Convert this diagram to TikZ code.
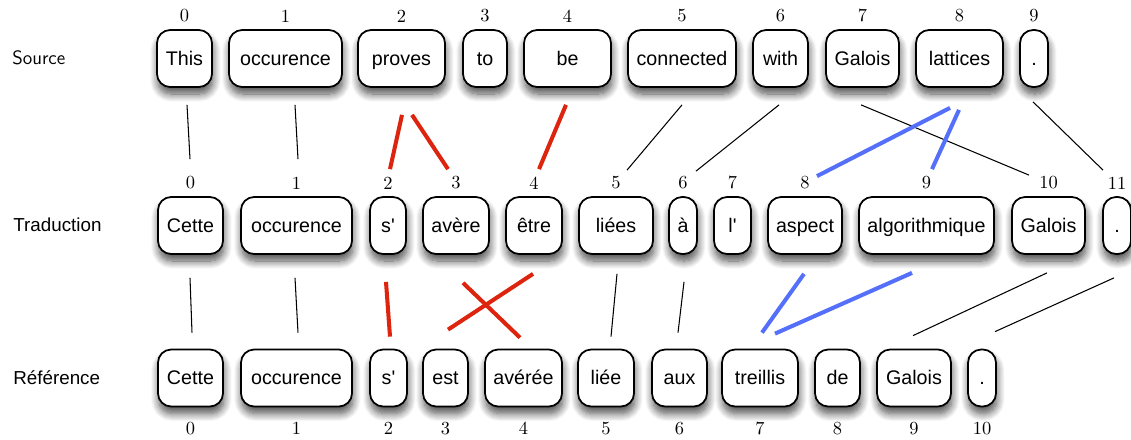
\documentclass[tikz,border=0pt]{standalone}
\usepackage{fontspec}
\usepackage{xcolor}
\usepackage{tikz}
\usetikzlibrary{calc,shadows,shadows.blur}
\newfontfamily\wordfont{Liberation Sans}
\definecolor{alignred}{RGB}{221,36,14}
\definecolor{alignblue}{RGB}{84,112,250}
\tikzstyle{word}+=[draw,line width=1pt,rounded corners=7.5pt,fill=white,minimum height=57*0.02cm,inner sep=0pt,
  text height=9.5pt,text depth=2.1pt,font=\wordfont\fontsize{11.2}{13}\selectfont,
  blur shadow={shadow xshift=0.5pt,shadow yshift=-4pt,shadow blur radius=4.5pt,shadow blur steps=10,shadow opacity=70}]
\tikzstyle{num}+=[font=\rmfamily\fontsize{10.5}{12}\selectfont,inner sep=0pt,label distance=3.7pt]
\tikzstyle{rowname}+=[anchor=west,inner sep=0pt,font=\wordfont\fontsize{10.7}{13}\selectfont]
\tikzstyle{plain}+=[line width=0.6pt]
\tikzstyle{redlink}+=[line width=2.3pt,alignred]
\tikzstyle{bluelink}+=[line width=2.3pt,alignblue]

\begin{document}
\begin{tikzpicture}[x=0.02cm,y=-0.02cm]
  \useasboundingbox (0,0) rectangle (1131,439);
  % row titles
  \node[rowname,font=\sffamily\fontsize{11}{13}\selectfont] (src) at (12,58) {Source};
  \node[rowname] (trad) at (13,225) {Traduction};
  \node[rowname] (ref) at (13,378) {Référence};

  % source sentence
  \foreach \x/\w/\t [count=\i from 0] in {184.5/55/This,285.5/113/occurence,401.5/87/proves,485/44/to,
      567.5/87/be,682/108/connected,780.5/55/with,862.5/73/Galois,959.5/87/lattices,1034/28/.}
    \node[word,minimum width=\w*0.02cm,label={[num,name=sn\i]above:\i}] (s\i) at (\x,58.5) {\t};

  % translation
  \foreach \x/\w/\t [count=\i from 0] in {190.5/65/Cette,296.5/111/occurence,388/36/s',456/66/avère,
      534/56/être,616/74/liées,683/28/à,732.5/37/l',805/74/aspect,926.5/135/algorithmique,
      1048.5/73/Galois,1117/28/.}
    \node[word,minimum width=\w*0.02cm,label={[num,name=tn\i]above:\i}] (t\i) at (\x,225.5) {\t};

  % reference
  \foreach \x/\w/\t [count=\i from 0] in {190.5/65/Cette,296.5/111/occurence,388.5/37/s',445.5/45/est,
      523.5/77/avérée,606/56/liée,679.5/55/aux,760/76/treillis,837.5/45/de,914/74/Galois,982/28/.}
    \node[word,minimum width=\w*0.02cm,label={[num,name=rn\i,label distance=8pt]below:\i}] (r\i) at (\x,378) {\t};

  % source -> translation
  \draw[plain] ($(s0.south)+(2.5,17)$) -- ($(t0.north)+(-0.5,-37)$);
  \draw[plain] ($(s1.south)+(9.5,17)$) -- ($(t1.north)+(1.5,-37)$);
  \draw[redlink] ($(s2.south)+(0.5,27)$) -- ($(t2.north)+(2,-27)$);
  \draw[redlink] ($(s2.south)+(10.5,27)$) -- ($(t3.north)+(-8,-27)$);
  \draw[redlink] ($(s4.south)+(-1.5,17)$) -- ($(t4.north)+(5,-27)$);
  \draw[plain] ($(s5.south)+(0,17)$) -- ($(t5.north)+(11,-26)$);
  \draw[plain] ($(s6.south)+(-1.5,17)$) -- ($(t6.north)+(13,-25)$);
  \draw[plain] ($(s7.south)+(-1.5,17)$) -- ($(t10.north)+(-19.5,-21)$);
  \draw[bluelink] ($(s8.south)+(-9.5,20)$) -- ($(t8.north)+(12,-20)$);
  \draw[bluelink] ($(s8.south)+(-0.5,22)$) -- ($(t9.north)+(5.5,-27)$);
  \draw[plain] ($(s9.south)+(-1,14)$) -- ($(t11.north)+(-14,-26)$);

  % translation -> reference
  \draw[plain] ($(t0.south)+(-0.5,23)$) -- ($(r0.north)+(1.5,-16)$);
  \draw[plain] ($(t1.south)+(-1.5,23)$) -- ($(r1.north)+(1.5,-16)$);
  \draw[redlink] ($(t2.south)+(-2,27)$) -- ($(r2.north)+(1.5,-12)$);
  \draw[redlink] ($(t4.south)+(-1,19)$) -- ($(r3.north)+(2.5,-19)$);
  \draw[redlink] ($(t3.south)+(7,28)$) -- ($(r4.north)+(-3.5,-11)$);
  \draw[plain] ($(t5.south)+(1,19)$) -- ($(r5.north)+(5,-12)$);
  \draw[plain] ($(t6.south)+(1,27)$) -- ($(r6.north)+(-1.5,-16)$);
  \draw[bluelink] ($(t8.south)+(-1,19)$) -- ($(r7.north)+(2,-16)$);
  \draw[bluelink] ($(t9.south)+(-14.5,18)$) -- ($(r7.north)+(15,-15)$);
  \draw[plain] ($(t10.south)+(-1.5,18)$) -- ($(r9.north)+(-1,-13)$);
  \draw[plain] ($(t11.south)+(-3,23)$) -- ($(r10.north)+(13,-17)$);
\end{tikzpicture}
\end{document}
